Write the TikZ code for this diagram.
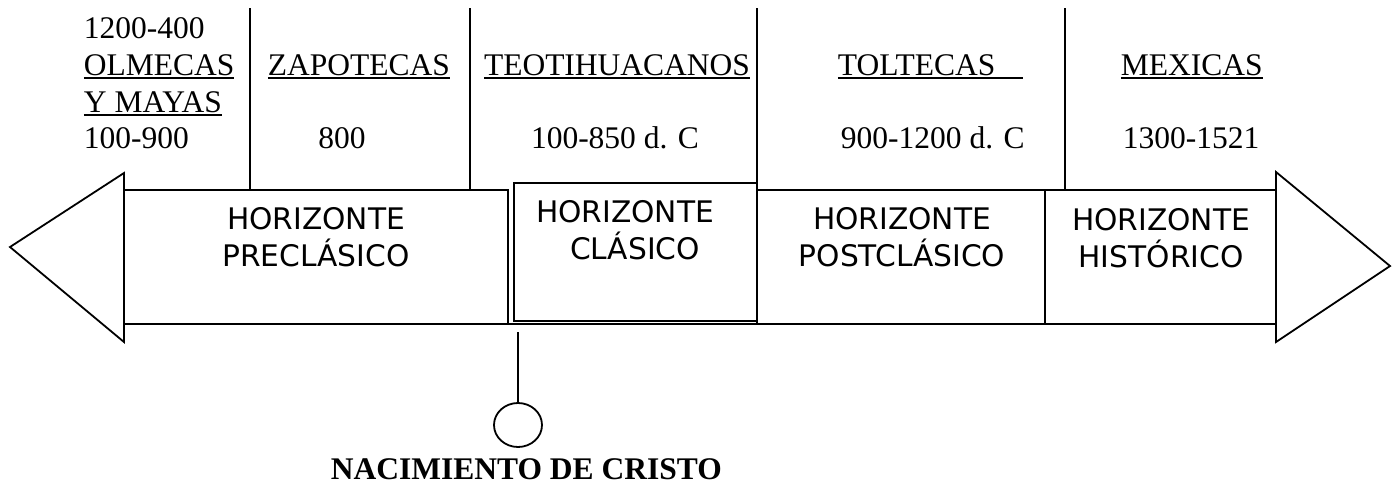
\documentclass[tikz,border=0pt]{standalone}
\usepackage{fontspec}
\setmainfont{Liberation Serif}
\newfontfamily\horizfont{DejaVu Sans}
\usetikzlibrary{shapes.geometric}
\newcommand\ulword[1]{\setbox0\hbox{#1}\rlap{\rule[-4pt]{\wd0}{1.8pt}}\box0}
\tikzstyle{pueblo} = [font=\fontsize{31.5}{37}\selectfont, inner sep=0pt]
\tikzstyle{horiz} = [font=\horizfont\fontsize{29.7}{36.5}\selectfont, inner sep=0pt, align=center, anchor=base]

\begin{document}
\begin{tikzpicture}[x=1pt, y=-1pt, line width=1.8pt]
\useasboundingbox (0,0) rectangle (1392,485);

% arrow heads
\draw (124,173) -- (10,247) -- (124,342) -- cycle;
\draw (1276,172) -- (1390,266) -- (1276,342) -- cycle;

% horizon boxes
\draw (124,190) rectangle (508,324);
\draw (514,183) rectangle (757,321);
\draw (757,190) rectangle (1045,324);
\draw (1045,190) rectangle (1276,324);
\draw (508,324) -- (757,324);

% separators
\foreach \x in {250,470,1065}
  \draw (\x,8) -- (\x,190);
\draw (757,8) -- (757,183);

% peoples
\node[pueblo, anchor=base west] (olmecas1) at (83,38) {1200-400};
\node[pueblo, anchor=base west] (olmecas2) at (83,75) {\ulword{OLMECAS}};
\node[pueblo, anchor=base west] (olmecas3) at (83,112) {\ulword{Y MAYAS}};
\node[pueblo, anchor=base west] (olmecas4) at (83,148) {100-900};
\node[pueblo, anchor=base] (zapotecas) at (359,75) {\ulword{ZAPOTECAS}};
\node[pueblo, anchor=base] (zapfecha) at (342,148) {800};
\node[pueblo, anchor=base] (teotihuacanos) at (617,75) {\ulword{TEOTIHUACANOS}};
\node[pueblo, anchor=base] (teofecha) at (615,148) {100-850 d. C};
\node[pueblo, anchor=base west] (toltecas) at (837,75) {\ulword{TOLTECAS\hspace*{28pt}}};
\node[pueblo, anchor=base west] (tolfecha) at (840,148) {900-1200 d. C};
\node[pueblo, anchor=base west] (mexicas) at (1120,75) {\ulword{MEXICAS}};
\node[pueblo, anchor=base west] (mexfecha) at (1122,148) {1300-1521};

% horizons
\node[horiz] (preclasico) at (316,266) {HORIZONTE\\PRECLÁSICO};
\node[horiz] (clasico) at (625,259) {HORIZONTE\\\hspace*{20pt}CLÁSICO};
\node[horiz] (postclasico) at (902,266) {HORIZONTE\\POSTCLÁSICO};
\node[horiz] (historico) at (1161,267) {HORIZONTE\\HISTÓRICO};

% birth of christ
\coordinate (nace) at (518,332);
\node[draw, ellipse, minimum width=48pt, minimum height=44pt, inner sep=0pt] (cristo) at (518,425) {};
\draw (nace) -- (cristo.north);
\node[pueblo, font=\fontsize{31.5}{37}\selectfont\bfseries, anchor=base west] (nacimiento) at (330,479) {NACIMIENTO DE CRISTO};

\end{tikzpicture}
\end{document}
